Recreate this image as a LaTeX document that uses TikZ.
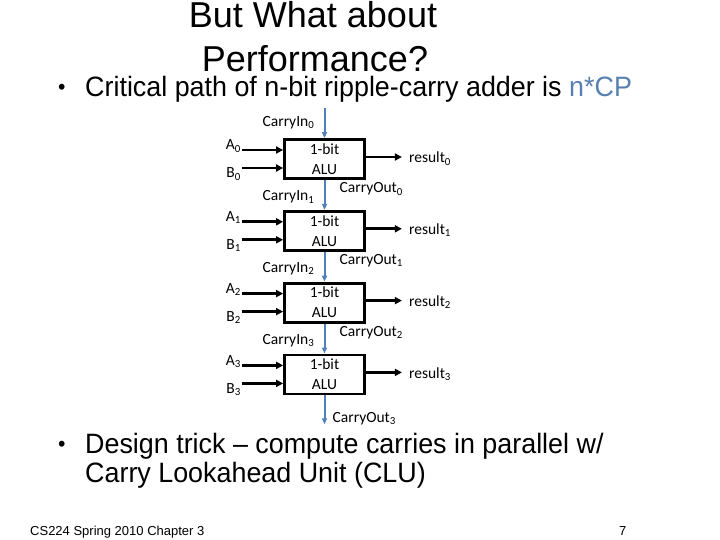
\documentclass[tikz,border=0pt]{standalone}
\usepackage{fontspec}
\setmainfont{Liberation Sans}
\newfontfamily\slidefont[FakeStretch=0.96]{Liberation Sans}
\newfontfamily\calibrifont{Carlito}
\usetikzlibrary{positioning,arrows.meta}

\definecolor{carryblue}{RGB}{79,129,189}
\definecolor{cpblue}{RGB}{88,128,176}

\tikzset{
  alu/.style={draw, line width=2.8pt, minimum width=80pt, minimum height=39pt,
    inner sep=0pt, align=center, font=\calibrifont\fontsize{15.5}{20}\selectfont},
  wire/.style={line width=2.8pt, -{Triangle[length=7pt,width=7pt]}},
  carry/.style={carryblue, line width=2pt, -{Triangle[length=6pt,width=5pt]}},
  lbl/.style={font=\calibrifont\fontsize{15.5}{17}\selectfont, inner sep=0pt},
  slidetext/.style={font=\slidefont\fontsize{28}{30}\selectfont, inner sep=0pt, anchor=base west},
  titletext/.style={font=\fontsize{36}{40}\selectfont, inner sep=0pt, anchor=base},
}

\begin{document}
\begin{tikzpicture}[x=1pt, y=-1pt, node distance=30pt]

  \fill[white] (0,0) rectangle (720,540);

  % Title and text
  \node[titletext] (title1) at (313,28) {But What about};
  \node[titletext] (title2) at (315,72) {Performance?};
  \node[slidetext, font=\slidefont\fontsize{22}{24}\selectfont] (dot1) at (58,95) {\textbullet};
  \node[slidetext] (crit) at (85,97) {Critical path of n-bit ripple-carry adder is {\color{cpblue}n*CP}};
  \node[slidetext, font=\slidefont\fontsize{22}{24}\selectfont] (dot2) at (58,451) {\textbullet};
  \node[slidetext] (trick1) at (85,453) {Design trick – compute carries in parallel w/};
  \node[slidetext] (trick2) at (85,482) {Carry Lookahead Unit (CLU)};
  \node[font=\fontsize{13}{15}\selectfont, inner sep=0pt, anchor=base west] (foot) at (30,535) {CS224 Spring 2010 Chapter 3};
  \node[font=\fontsize{13}{15}\selectfont, inner sep=0pt, anchor=base west] (page) at (619,535) {7};

  % Define nodes
  \node[alu]                 (alu0) at (324.5,159) {1-bit\\ALU};
  \node[alu, below=of alu0]  (alu1) {1-bit\\ALU};
  \node[alu, below=of alu1]  (alu2) {1-bit\\ALU};
  \node[alu, below=of alu2]  (alu3) {1-bit\\ALU};

  \coordinate[above=30pt of alu0] (cin0);
  \coordinate[below=29pt of alu3] (cout3);

  \coordinate (a0) at ([xshift=-41pt,yshift=9pt]alu0.west);
  \coordinate (b0) at ([xshift=-41pt,yshift=-9pt]alu0.west);
  \coordinate (a1) at ([xshift=-41pt,yshift=9pt]alu1.west);
  \coordinate (b1) at ([xshift=-41pt,yshift=-9pt]alu1.west);
  \coordinate (a2) at ([xshift=-41pt,yshift=9pt]alu2.west);
  \coordinate (b2) at ([xshift=-41pt,yshift=-9pt]alu2.west);
  \coordinate (a3) at ([xshift=-41pt,yshift=9pt]alu3.west);
  \coordinate (b3) at ([xshift=-41pt,yshift=-9pt]alu3.west);

  \coordinate (r0) at ([xshift=36pt,yshift=2pt]alu0.east);
  \coordinate (r1) at ([xshift=36pt,yshift=2pt]alu1.east);
  \coordinate (r2) at ([xshift=36pt,yshift=2pt]alu2.east);
  \coordinate (r3) at ([xshift=36pt,yshift=2pt]alu3.east);

  % Labels
  \node[lbl, anchor=base east] (la0) at ([xshift=-1pt]a0) {A\textsubscript{0}};
  \node[lbl, anchor=base east] (lb0) at ([xshift=-1pt,yshift=-10pt]b0) {B\textsubscript{0}};
  \node[lbl, anchor=base east] (la1) at ([xshift=-1pt]a1) {A\textsubscript{1}};
  \node[lbl, anchor=base east] (lb1) at ([xshift=-1pt,yshift=-10pt]b1) {B\textsubscript{1}};
  \node[lbl, anchor=base east] (la2) at ([xshift=-1pt]a2) {A\textsubscript{2}};
  \node[lbl, anchor=base east] (lb2) at ([xshift=-1pt,yshift=-10pt]b2) {B\textsubscript{2}};
  \node[lbl, anchor=base east] (la3) at ([xshift=-1pt]a3) {A\textsubscript{3}};
  \node[lbl, anchor=base east] (lb3) at ([xshift=-1pt,yshift=-10pt]b3) {B\textsubscript{3}};

  \node[lbl, anchor=base west] (lr0) at ([xshift=7pt,yshift=-6pt]r0) {result\textsubscript{0}};
  \node[lbl, anchor=base west] (lr1) at ([xshift=7pt,yshift=-6pt]r1) {result\textsubscript{1}};
  \node[lbl, anchor=base west] (lr2) at ([xshift=7pt,yshift=-6pt]r2) {result\textsubscript{2}};
  \node[lbl, anchor=base west] (lr3) at ([xshift=7pt,yshift=-6pt]r3) {result\textsubscript{3}};

  \node[lbl, anchor=base east] (lcin0) at ([xshift=-10pt,yshift=12pt]alu0.north) {CarryIn\textsubscript{0}};
  \node[lbl, anchor=base east] (lcin1) at ([xshift=-10pt,yshift=9pt]alu1.north) {CarryIn\textsubscript{1}};
  \node[lbl, anchor=base east] (lcin2) at ([xshift=-10pt,yshift=9pt]alu2.north) {CarryIn\textsubscript{2}};
  \node[lbl, anchor=base east] (lcin3) at ([xshift=-10pt,yshift=9pt]alu3.north) {CarryIn\textsubscript{3}};

  \node[lbl, anchor=base west] (lcout0) at ([xshift=15pt,yshift=-13pt]alu0.south) {CarryOut\textsubscript{0}};
  \node[lbl, anchor=base west] (lcout1) at ([xshift=15pt,yshift=-13pt]alu1.south) {CarryOut\textsubscript{1}};
  \node[lbl, anchor=base west] (lcout2) at ([xshift=15pt,yshift=-13pt]alu2.south) {CarryOut\textsubscript{2}};
  \node[lbl, anchor=base west] (lcout3) at ([xshift=8pt,yshift=2pt]cout3) {CarryOut\textsubscript{3}};

  % Connect the nodes
  \draw[wire] (a0) -- (a0 -| alu0.west);
  \draw[wire] (b0) -- (b0 -| alu0.west);
  \draw[wire] (a1) -- (a1 -| alu1.west);
  \draw[wire] (b1) -- (b1 -| alu1.west);
  \draw[wire] (a2) -- (a2 -| alu2.west);
  \draw[wire] (b2) -- (b2 -| alu2.west);
  \draw[wire] (a3) -- (a3 -| alu3.west);
  \draw[wire] (b3) -- (b3 -| alu3.west);

  \draw[wire] (r0 -| alu0.east) -- (r0);
  \draw[wire] (r1 -| alu1.east) -- (r1);
  \draw[wire] (r2 -| alu2.east) -- (r2);
  \draw[wire] (r3 -| alu3.east) -- (r3);

  \draw[carry] (cin0) -- (alu0);
  \draw[carry] (alu0) -- (alu1);
  \draw[carry] (alu1) -- (alu2);
  \draw[carry] (alu2) -- (alu3);
  \draw[carry] (alu3) -- (cout3);

\end{tikzpicture}
\end{document}
